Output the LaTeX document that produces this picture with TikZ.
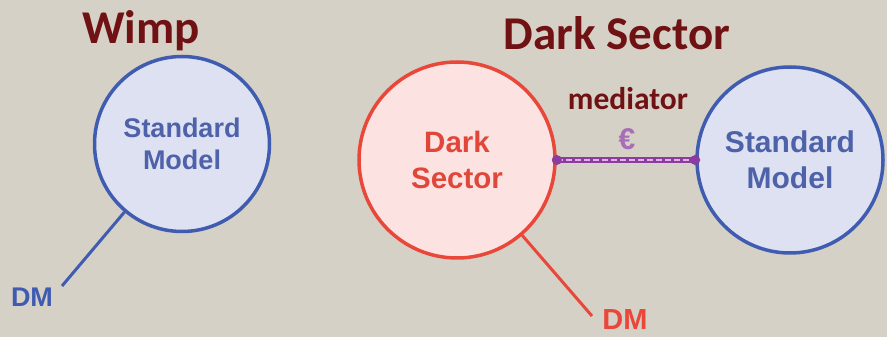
\documentclass[tikz,border=0pt]{standalone}
\usepackage{fontspec}
\setmainfont{Liberation Sans}
\newfontfamily\titlefont{Carlito}
\definecolor{bgc}{RGB}{214,209,198}
\definecolor{titc}{RGB}{112,18,20}
\definecolor{smborder}{RGB}{63,92,176}
\definecolor{smfill}{RGB}{221,225,242}
\definecolor{smtext}{RGB}{78,98,170}
\definecolor{dsborder}{RGB}{232,71,58}
\definecolor{dsfill}{RGB}{252,227,225}
\definecolor{dstext}{RGB}{224,71,58}
\definecolor{medc}{RGB}{140,60,160}
\definecolor{medlight}{RGB}{220,180,225}
\begin{document}
\begin{tikzpicture}[x=1pt,y=1pt,
  smcircle/.style={circle, draw=smborder, line width=3.5pt, fill=smfill, inner sep=0pt, align=center, text=smtext, font=\bfseries},
  dscircle/.style={circle, draw=dsborder, line width=3.5pt, fill=dsfill, inner sep=0pt, align=center, text=dstext, font=\bfseries},
  titletext/.style={text=titc, font=\titlefont\bfseries\fontsize{47}{50}\selectfont, inner sep=0pt},
  smline/.style={draw=smborder, line width=3pt},
  dsline/.style={draw=dsborder, line width=3pt},
  dot/.style={circle, fill=medc, inner sep=0pt, minimum size=10pt}
]
\fill[bgc] (0,0) rectangle (887,337);
\useasboundingbox (0,0) rectangle (887,337);

\node[titletext] (wimp) at (141,306) {Wimp};
\node[titletext] (dstitle) at (617,304) {Dark Sector};

\node[smcircle, minimum size=175pt, font=\bfseries\fontsize{27}{32}\selectfont] (sm1) at (182,193) {Standard\\Model};
\node[dscircle, minimum size=196pt, font=\bfseries\fontsize{29.5}{36}\selectfont] (ds) at (457,177) {Dark\\Sector};
\node[smcircle, minimum size=186pt, font=\bfseries\fontsize{30}{36}\selectfont] (sm2) at (790,177) {Standard\\Model};

\coordinate (e1) at (62,51);
\coordinate (e2) at (592,21);
\draw[smline] (sm1) -- (e1);
\draw[dsline] (ds) -- (e2);

\node[text=smborder, font=\bfseries\fontsize{27}{30}\selectfont, inner sep=0pt] (dm1) at (32,40) {DM};
\node[text=dsborder, font=\bfseries\fontsize{29}{32}\selectfont, inner sep=0pt] (dm2) at (625,17) {DM};

\draw[medc, line width=5.5pt] (ds) -- (sm2);
\draw[medlight, line width=2pt, dash pattern=on 6pt off 3pt] (ds) -- (sm2);
\node[dot] (d1) at (ds.east) {};
\node[dot] (d2) at (sm2.west) {};

\node[text=titc, font=\titlefont\bfseries\fontsize{31.5}{34}\selectfont, inner sep=0pt] (med) at (628,238) {mediator};
\node[text=medc!75, font=\bfseries\fontsize{30}{32}\selectfont, inner sep=0pt] (eps) at (627,198) {€};
\end{tikzpicture}
\end{document}
